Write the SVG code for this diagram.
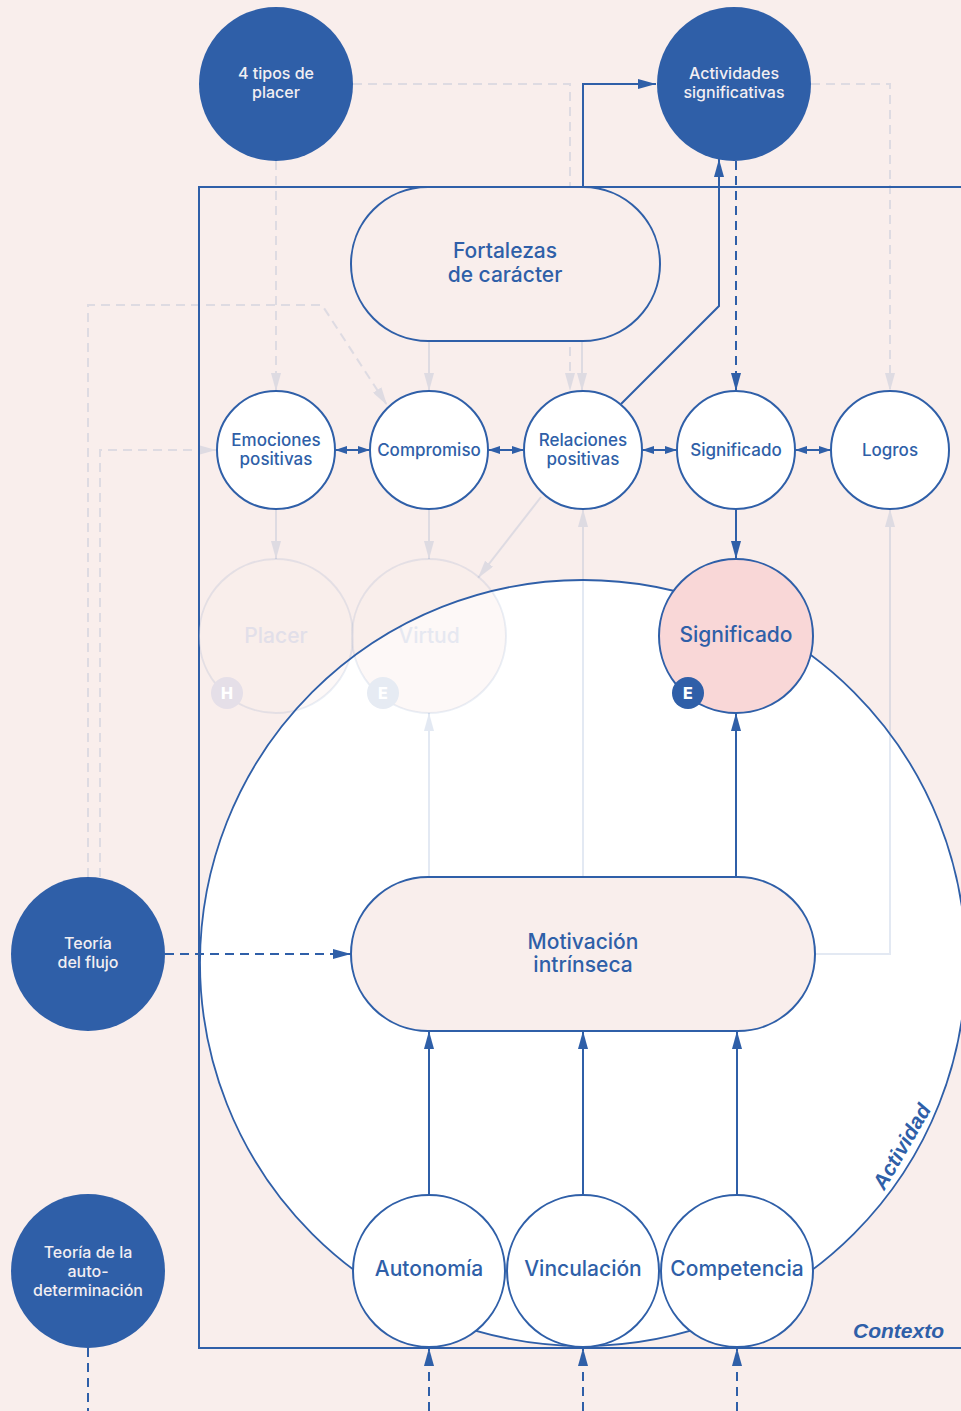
<svg xmlns="http://www.w3.org/2000/svg" width="961" height="1411" viewBox="0 0 961 1411">
  <defs>
    <marker id="ah" markerUnits="userSpaceOnUse" markerWidth="18" markerHeight="10" refX="18" refY="5" orient="auto">
      <path d="M0,0 L18,5 L0,10 z" fill="#2F5FA8"/>
    </marker>
    <marker id="ahs" markerUnits="userSpaceOnUse" markerWidth="12" markerHeight="8" refX="12" refY="4" orient="auto-start-reverse">
      <path d="M0,0 L12,4 L0,8 z" fill="#2F5FA8"/>
    </marker>
    <style>
      .bg { fill: #F9EEEC; }
      .ln { fill: none; stroke: #2F5FA8; stroke-width: 2; }
      .dash { stroke-dasharray: 9 6; }
      .faded { opacity: 0.13; }
      .dark { fill: #2F5FA8; }
      .ring { fill: #FFFFFF; stroke: #2F5FA8; stroke-width: 2; }
      .pill { fill: #F9EEEC; stroke: #2F5FA8; stroke-width: 2; }
      .lt { font-family: Inter, "Liberation Sans", sans-serif; font-weight: 500; fill: #F2EEF2; font-size: 16px; text-anchor: middle; }
      .lb { font-family: Inter, "Liberation Sans", sans-serif; font-weight: 500; fill: #2F5FA8; font-size: 17px; text-anchor: middle; }
      .lg { font-family: Inter, "Liberation Sans", sans-serif; font-weight: 500; fill: #2F5FA8; font-size: 21px; text-anchor: middle; }
      .badge { font-family: Inter, "Liberation Sans", sans-serif; font-weight: 800; fill: #FFFFFF; font-size: 16px; text-anchor: middle; }
      .it { font-family: "Liberation Sans", Arial, sans-serif; font-weight: 700; font-style: italic; fill: #2F5FA8; font-size: 21px; }
      .ghost { fill: #F9EEEC; fill-opacity: 0.4; stroke: #2F5FA8; stroke-opacity: 0.1; stroke-width: 2; }
    </style>
  </defs>

  <rect class="bg" x="0" y="0" width="961" height="1411"/>

  <!-- Context frame -->
  <g id="contexto">
    <path class="ln" d="M961,187 H199 V1348 H961"/>
    <text class="it" x="944" y="1338" text-anchor="end">Contexto</text>
  </g>

  <!-- Activity area -->
  <g id="actividad">
    <circle cx="583" cy="963" r="383" fill="#FFFFFF"/>
    <text class="it" transform="translate(908,1150) rotate(-60)" text-anchor="middle">Actividad</text>
  </g>

  <g id="connectors">
    <!-- de-emphasised links -->
    <g class="faded">
      <path class="ln dash" d="M353,84 H570 V391" marker-end="url(#ah)"/>
      <path class="ln dash" d="M811,84 H890 V391" marker-end="url(#ah)"/>
      <path class="ln dash" d="M276,161 V391" marker-end="url(#ah)"/>
      <path class="ln dash" d="M88,877 V305 H322 L387,405" marker-end="url(#ah)"/>
      <path class="ln dash" d="M100,877 V450 H216" marker-end="url(#ah)"/>
      <path class="ln" d="M429,341 V391" marker-end="url(#ah)"/>
      <path class="ln" d="M582,341 V391" marker-end="url(#ah)"/>
      <path class="ln" d="M276,509 V559" marker-end="url(#ah)"/>
      <path class="ln" d="M429,509 V559" marker-end="url(#ah)"/>
      <path class="ln" d="M541,497 L478,578" marker-end="url(#ah)"/>
      <path class="ln" d="M429,877 V713" marker-end="url(#ah)"/>
      <path class="ln" d="M583,877 V509" marker-end="url(#ah)"/>
      <path class="ln" d="M815,954 H890 V509" marker-end="url(#ah)"/>
    </g>
    <!-- main links -->
    <path class="ln" d="M583,187 V84 H656" marker-end="url(#ah)"/>
    <path class="ln" d="M621,404 L719,306 V159" marker-end="url(#ah)"/>
    <path class="ln dash" d="M736,161 V391" marker-end="url(#ah)"/>
    <path class="ln" d="M335,450 H370" marker-start="url(#ahs)" marker-end="url(#ahs)"/>
    <path class="ln" d="M488,450 H524" marker-start="url(#ahs)" marker-end="url(#ahs)"/>
    <path class="ln" d="M642,450 H677" marker-start="url(#ahs)" marker-end="url(#ahs)"/>
    <path class="ln" d="M795,450 H831" marker-start="url(#ahs)" marker-end="url(#ahs)"/>
    <path class="ln" d="M736,509 V559" marker-end="url(#ah)"/>
    <path class="ln" d="M736,877 V713" marker-end="url(#ah)"/>
    <path class="ln dash" d="M165,954 H351" marker-end="url(#ah)"/>
    <path class="ln" d="M429,1195 V1031" marker-end="url(#ah)"/>
    <path class="ln" d="M583,1195 V1031" marker-end="url(#ah)"/>
    <path class="ln" d="M737,1195 V1031" marker-end="url(#ah)"/>
    <path class="ln dash" d="M429,1411 V1348" marker-end="url(#ah)"/>
    <path class="ln dash" d="M583,1411 V1348" marker-end="url(#ah)"/>
    <path class="ln dash" d="M737,1411 V1348" marker-end="url(#ah)"/>
    <path class="ln dash" d="M88,1348 V1411"/>
  </g>

  <!-- Faded nodes -->
  <g id="placer">
    <circle class="ghost" cx="276" cy="636" r="77"/>
    <text class="lg" x="276" y="643" style="fill:#E2DFE9">Placer</text>
    <circle cx="227" cy="693" r="16" fill="#E5DFE8"/>
    <text class="badge" x="227" y="699">H</text>
  </g>
  <g id="virtud">
    <circle class="ghost" cx="429" cy="636" r="77"/>
    <text class="lg" x="429" y="643" style="fill:#E6E8F1">Virtud</text>
    <circle cx="383" cy="693" r="16" fill="#E6EBF3"/>
    <text class="badge" x="383" y="699">E</text>
  </g>

  <!-- Activity outline -->
  <circle id="actividad-borde" cx="583" cy="963" r="383" fill="none" stroke="#2F5FA8" stroke-width="1.8"/>

  <!-- Theory nodes -->
  <g id="tipos-placer">
    <circle class="dark" cx="276" cy="84" r="77"/>
    <text class="lt" x="276" y="79">4 tipos de</text>
    <text class="lt" x="276" y="98">placer</text>
  </g>
  <g id="actividades-significativas">
    <circle class="dark" cx="734" cy="84" r="77"/>
    <text class="lt" x="734" y="79">Actividades</text>
    <text class="lt" x="734" y="98">significativas</text>
  </g>
  <g id="teoria-flujo">
    <circle class="dark" cx="88" cy="954" r="77"/>
    <text class="lt" x="88" y="949">Teoría</text>
    <text class="lt" x="88" y="968">del flujo</text>
  </g>
  <g id="teoria-autodeterminacion">
    <circle class="dark" cx="88" cy="1271" r="77"/>
    <text class="lt" x="88" y="1258">Teoría de la</text>
    <text class="lt" x="88" y="1277">auto-</text>
    <text class="lt" x="88" y="1296">determinación</text>
  </g>

  <!-- Strengths -->
  <g id="fortalezas">
    <rect class="pill" x="351" y="187" width="309" height="154" rx="77"/>
    <text class="lg" x="505" y="258">Fortalezas</text>
    <text class="lg" x="505" y="282">de carácter</text>
  </g>

  <!-- PERMA row -->
  <g id="emociones-positivas">
    <circle class="ring" cx="276" cy="450" r="59"/>
    <text class="lb" x="276" y="446">Emociones</text>
    <text class="lb" x="276" y="465">positivas</text>
  </g>
  <g id="compromiso">
    <circle class="ring" cx="429" cy="450" r="59"/>
    <text class="lb" x="429" y="456">Compromiso</text>
  </g>
  <g id="relaciones-positivas">
    <circle class="ring" cx="583" cy="450" r="59"/>
    <text class="lb" x="583" y="446">Relaciones</text>
    <text class="lb" x="583" y="465">positivas</text>
  </g>
  <g id="significado-perma">
    <circle class="ring" cx="736" cy="450" r="59"/>
    <text class="lb" x="736" y="456">Significado</text>
  </g>
  <g id="logros">
    <circle class="ring" cx="890" cy="450" r="59"/>
    <text class="lb" x="890" y="456">Logros</text>
  </g>

  <!-- Meaning -->
  <g id="significado">
    <circle cx="736" cy="636" r="77" fill="#F9D7D7" stroke="#2F5FA8" stroke-width="2"/>
    <text class="lg" x="736" y="642">Significado</text>
    <circle class="dark" cx="688" cy="693" r="16"/>
    <text class="badge" x="688" y="699">E</text>
  </g>

  <!-- Intrinsic motivation -->
  <g id="motivacion-intrinseca">
    <rect class="pill" x="351" y="877" width="464" height="154" rx="77"/>
    <text class="lg" x="583" y="949">Motivación</text>
    <text class="lg" x="583" y="972">intrínseca</text>
  </g>

  <!-- Basic needs -->
  <g id="autonomia">
    <circle class="ring" cx="429" cy="1271" r="76" stroke-width="1.5"/>
    <text class="lg" x="429" y="1276">Autonomía</text>
  </g>
  <g id="vinculacion">
    <circle class="ring" cx="583" cy="1271" r="76" stroke-width="1.5"/>
    <text class="lg" x="583" y="1276">Vinculación</text>
  </g>
  <g id="competencia">
    <circle class="ring" cx="737" cy="1271" r="76" stroke-width="1.5"/>
    <text class="lg" x="737" y="1276">Competencia</text>
  </g>
</svg>
